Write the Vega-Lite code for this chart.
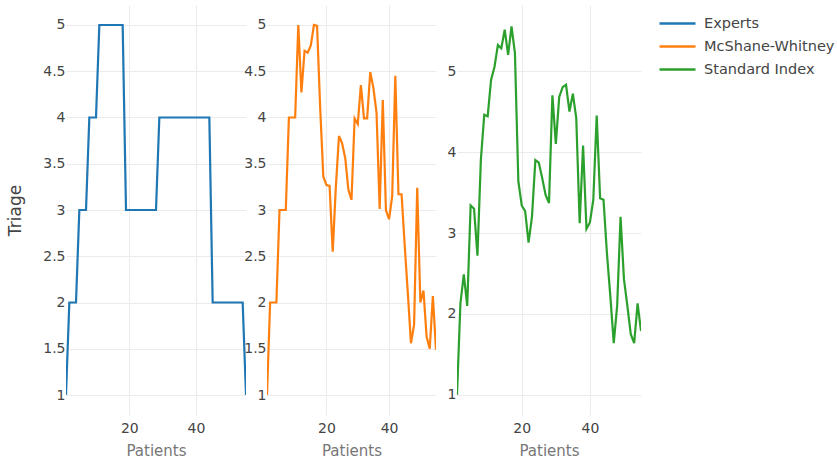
{
  "$schema": "https://vega.github.io/schema/vega-lite/v6.json",
  "padding": {"left": 6, "top": 5, "right": 5, "bottom": 5},
  "background": "white",
  "config": {
    "font": "DejaVu Sans",
    "view": {"stroke": null},
    "axis": {"domain": false, "ticks": false, "gridColor": "#ebebeb", "gridWidth": 1, "labelColor": "#444", "labelFontSize": 14, "titleFontWeight": "normal"},
    "legend": {"labelFontSize": 14.5, "labelColor": "#444"}
  },
  "datasets": {
    "triage": [
      {"series": "Experts", "patient": 1, "triage": 1},
      {"series": "Experts", "patient": 2, "triage": 2},
      {"series": "Experts", "patient": 3, "triage": 2},
      {"series": "Experts", "patient": 4, "triage": 2},
      {"series": "Experts", "patient": 5, "triage": 3},
      {"series": "Experts", "patient": 6, "triage": 3},
      {"series": "Experts", "patient": 7, "triage": 3},
      {"series": "Experts", "patient": 8, "triage": 4},
      {"series": "Experts", "patient": 9, "triage": 4},
      {"series": "Experts", "patient": 10, "triage": 4},
      {"series": "Experts", "patient": 11, "triage": 5},
      {"series": "Experts", "patient": 12, "triage": 5},
      {"series": "Experts", "patient": 13, "triage": 5},
      {"series": "Experts", "patient": 14, "triage": 5},
      {"series": "Experts", "patient": 15, "triage": 5},
      {"series": "Experts", "patient": 16, "triage": 5},
      {"series": "Experts", "patient": 17, "triage": 5},
      {"series": "Experts", "patient": 18, "triage": 5},
      {"series": "Experts", "patient": 19, "triage": 3},
      {"series": "Experts", "patient": 20, "triage": 3},
      {"series": "Experts", "patient": 21, "triage": 3},
      {"series": "Experts", "patient": 22, "triage": 3},
      {"series": "Experts", "patient": 23, "triage": 3},
      {"series": "Experts", "patient": 24, "triage": 3},
      {"series": "Experts", "patient": 25, "triage": 3},
      {"series": "Experts", "patient": 26, "triage": 3},
      {"series": "Experts", "patient": 27, "triage": 3},
      {"series": "Experts", "patient": 28, "triage": 3},
      {"series": "Experts", "patient": 29, "triage": 4},
      {"series": "Experts", "patient": 30, "triage": 4},
      {"series": "Experts", "patient": 31, "triage": 4},
      {"series": "Experts", "patient": 32, "triage": 4},
      {"series": "Experts", "patient": 33, "triage": 4},
      {"series": "Experts", "patient": 34, "triage": 4},
      {"series": "Experts", "patient": 35, "triage": 4},
      {"series": "Experts", "patient": 36, "triage": 4},
      {"series": "Experts", "patient": 37, "triage": 4},
      {"series": "Experts", "patient": 38, "triage": 4},
      {"series": "Experts", "patient": 39, "triage": 4},
      {"series": "Experts", "patient": 40, "triage": 4},
      {"series": "Experts", "patient": 41, "triage": 4},
      {"series": "Experts", "patient": 42, "triage": 4},
      {"series": "Experts", "patient": 43, "triage": 4},
      {"series": "Experts", "patient": 44, "triage": 4},
      {"series": "Experts", "patient": 45, "triage": 2},
      {"series": "Experts", "patient": 46, "triage": 2},
      {"series": "Experts", "patient": 47, "triage": 2},
      {"series": "Experts", "patient": 48, "triage": 2},
      {"series": "Experts", "patient": 49, "triage": 2},
      {"series": "Experts", "patient": 50, "triage": 2},
      {"series": "Experts", "patient": 51, "triage": 2},
      {"series": "Experts", "patient": 52, "triage": 2},
      {"series": "Experts", "patient": 53, "triage": 2},
      {"series": "Experts", "patient": 54, "triage": 2},
      {"series": "Experts", "patient": 55, "triage": 1},
      {"series": "McShane-Whitney", "patient": 1, "triage": 1},
      {"series": "McShane-Whitney", "patient": 2, "triage": 2},
      {"series": "McShane-Whitney", "patient": 3, "triage": 2},
      {"series": "McShane-Whitney", "patient": 4, "triage": 2},
      {"series": "McShane-Whitney", "patient": 5, "triage": 3},
      {"series": "McShane-Whitney", "patient": 6, "triage": 3},
      {"series": "McShane-Whitney", "patient": 7, "triage": 3},
      {"series": "McShane-Whitney", "patient": 8, "triage": 4},
      {"series": "McShane-Whitney", "patient": 9, "triage": 4},
      {"series": "McShane-Whitney", "patient": 10, "triage": 4},
      {"series": "McShane-Whitney", "patient": 11, "triage": 5},
      {"series": "McShane-Whitney", "patient": 12, "triage": 4.27},
      {"series": "McShane-Whitney", "patient": 13, "triage": 4.72},
      {"series": "McShane-Whitney", "patient": 14, "triage": 4.70},
      {"series": "McShane-Whitney", "patient": 15, "triage": 4.78},
      {"series": "McShane-Whitney", "patient": 16, "triage": 5},
      {"series": "McShane-Whitney", "patient": 17, "triage": 4.99},
      {"series": "McShane-Whitney", "patient": 18, "triage": 4.1},
      {"series": "McShane-Whitney", "patient": 19, "triage": 3.36},
      {"series": "McShane-Whitney", "patient": 20, "triage": 3.27},
      {"series": "McShane-Whitney", "patient": 21, "triage": 3.26},
      {"series": "McShane-Whitney", "patient": 22, "triage": 2.55},
      {"series": "McShane-Whitney", "patient": 23, "triage": 3.25},
      {"series": "McShane-Whitney", "patient": 24, "triage": 3.80},
      {"series": "McShane-Whitney", "patient": 25, "triage": 3.72},
      {"series": "McShane-Whitney", "patient": 26, "triage": 3.56},
      {"series": "McShane-Whitney", "patient": 27, "triage": 3.22},
      {"series": "McShane-Whitney", "patient": 28, "triage": 3.11},
      {"series": "McShane-Whitney", "patient": 29, "triage": 3.99},
      {"series": "McShane-Whitney", "patient": 30, "triage": 3.93},
      {"series": "McShane-Whitney", "patient": 31, "triage": 4.35},
      {"series": "McShane-Whitney", "patient": 32, "triage": 3.99},
      {"series": "McShane-Whitney", "patient": 33, "triage": 3.99},
      {"series": "McShane-Whitney", "patient": 34, "triage": 4.49},
      {"series": "McShane-Whitney", "patient": 35, "triage": 4.32},
      {"series": "McShane-Whitney", "patient": 36, "triage": 4.05},
      {"series": "McShane-Whitney", "patient": 37, "triage": 3.01},
      {"series": "McShane-Whitney", "patient": 38, "triage": 4.19},
      {"series": "McShane-Whitney", "patient": 39, "triage": 3.0},
      {"series": "McShane-Whitney", "patient": 40, "triage": 2.90},
      {"series": "McShane-Whitney", "patient": 41, "triage": 3.15},
      {"series": "McShane-Whitney", "patient": 42, "triage": 4.45},
      {"series": "McShane-Whitney", "patient": 43, "triage": 3.17},
      {"series": "McShane-Whitney", "patient": 44, "triage": 3.17},
      {"series": "McShane-Whitney", "patient": 45, "triage": 2.62},
      {"series": "McShane-Whitney", "patient": 46, "triage": 2.1},
      {"series": "McShane-Whitney", "patient": 47, "triage": 1.56},
      {"series": "McShane-Whitney", "patient": 48, "triage": 1.76},
      {"series": "McShane-Whitney", "patient": 49, "triage": 3.24},
      {"series": "McShane-Whitney", "patient": 50, "triage": 2.0},
      {"series": "McShane-Whitney", "patient": 51, "triage": 2.13},
      {"series": "McShane-Whitney", "patient": 52, "triage": 1.63},
      {"series": "McShane-Whitney", "patient": 53, "triage": 1.5},
      {"series": "McShane-Whitney", "patient": 54, "triage": 2.07},
      {"series": "McShane-Whitney", "patient": 55, "triage": 1.49},
      {"series": "Standard Index", "patient": 1, "triage": 1},
      {"series": "Standard Index", "patient": 2, "triage": 2.13},
      {"series": "Standard Index", "patient": 3, "triage": 2.49},
      {"series": "Standard Index", "patient": 4, "triage": 2.10},
      {"series": "Standard Index", "patient": 5, "triage": 3.34},
      {"series": "Standard Index", "patient": 6, "triage": 3.30},
      {"series": "Standard Index", "patient": 7, "triage": 2.72},
      {"series": "Standard Index", "patient": 8, "triage": 3.90},
      {"series": "Standard Index", "patient": 9, "triage": 4.46},
      {"series": "Standard Index", "patient": 10, "triage": 4.44},
      {"series": "Standard Index", "patient": 11, "triage": 4.89},
      {"series": "Standard Index", "patient": 12, "triage": 5.05},
      {"series": "Standard Index", "patient": 13, "triage": 5.32},
      {"series": "Standard Index", "patient": 14, "triage": 5.28},
      {"series": "Standard Index", "patient": 15, "triage": 5.51},
      {"series": "Standard Index", "patient": 16, "triage": 5.20},
      {"series": "Standard Index", "patient": 17, "triage": 5.55},
      {"series": "Standard Index", "patient": 18, "triage": 5.22},
      {"series": "Standard Index", "patient": 19, "triage": 3.64},
      {"series": "Standard Index", "patient": 20, "triage": 3.34},
      {"series": "Standard Index", "patient": 21, "triage": 3.27},
      {"series": "Standard Index", "patient": 22, "triage": 2.88},
      {"series": "Standard Index", "patient": 23, "triage": 3.2},
      {"series": "Standard Index", "patient": 24, "triage": 3.90},
      {"series": "Standard Index", "patient": 25, "triage": 3.87},
      {"series": "Standard Index", "patient": 26, "triage": 3.68},
      {"series": "Standard Index", "patient": 27, "triage": 3.47},
      {"series": "Standard Index", "patient": 28, "triage": 3.37},
      {"series": "Standard Index", "patient": 29, "triage": 4.70},
      {"series": "Standard Index", "patient": 30, "triage": 4.10},
      {"series": "Standard Index", "patient": 31, "triage": 4.68},
      {"series": "Standard Index", "patient": 32, "triage": 4.80},
      {"series": "Standard Index", "patient": 33, "triage": 4.83},
      {"series": "Standard Index", "patient": 34, "triage": 4.50},
      {"series": "Standard Index", "patient": 35, "triage": 4.72},
      {"series": "Standard Index", "patient": 36, "triage": 4.42},
      {"series": "Standard Index", "patient": 37, "triage": 3.12},
      {"series": "Standard Index", "patient": 38, "triage": 4.08},
      {"series": "Standard Index", "patient": 39, "triage": 3.05},
      {"series": "Standard Index", "patient": 40, "triage": 3.13},
      {"series": "Standard Index", "patient": 41, "triage": 3.41},
      {"series": "Standard Index", "patient": 42, "triage": 4.45},
      {"series": "Standard Index", "patient": 43, "triage": 3.43},
      {"series": "Standard Index", "patient": 44, "triage": 3.41},
      {"series": "Standard Index", "patient": 45, "triage": 2.75},
      {"series": "Standard Index", "patient": 46, "triage": 2.22},
      {"series": "Standard Index", "patient": 47, "triage": 1.64},
      {"series": "Standard Index", "patient": 48, "triage": 2.10},
      {"series": "Standard Index", "patient": 49, "triage": 3.20},
      {"series": "Standard Index", "patient": 50, "triage": 2.43},
      {"series": "Standard Index", "patient": 51, "triage": 2.10},
      {"series": "Standard Index", "patient": 52, "triage": 1.75},
      {"series": "Standard Index", "patient": 53, "triage": 1.64},
      {"series": "Standard Index", "patient": 54, "triage": 2.13},
      {"series": "Standard Index", "patient": 55, "triage": 1.79}
    ]
  },
  "data": {"name": "triage"},
  "bounds": "flush",
  "spacing": 21,
  "hconcat": [
    {
      "width": 180,
      "height": 410,
      "transform": [{"filter": "datum.series === 'Experts'"}],
      "mark": {"type": "line", "strokeWidth": 2.2, "clip": true},
      "encoding": {
        "x": {"field": "patient", "type": "quantitative", "scale": {"domain": [1, 55], "nice": false, "zero": false}, "axis": {"values": [20, 40], "title": "Patients", "titleColor": "#777", "titleFontSize": 15, "labelPadding": 6, "titlePadding": 8}},
        "y": {"field": "triage", "type": "quantitative", "scale": {"domain": [0.784, 5.216], "nice": false, "zero": false}, "axis": {"values": [1, 1.5, 2, 2.5, 3, 3.5, 4, 4.5, 5], "format": "~g", "title": "Triage", "titleColor": "#444", "titleFontSize": 17, "labelPadding": 1, "titlePadding": 18}},
        "color": {"field": "series", "type": "nominal", "scale": {"domain": ["Experts", "McShane-Whitney", "Standard Index"], "range": ["#1f77b4", "#ff7f0e", "#2ca02c"]}, "legend": {"title": null, "symbolType": "M-1.8,0H1.8", "symbolStrokeWidth": 2.5, "symbolSize": 400, "rowPadding": 5, "labelOffset": 15, "offset": 18, "padding": 7}}
      }
    },
    {
      "width": 169,
      "height": 410,
      "transform": [{"filter": "datum.series === 'McShane-Whitney'"}],
      "mark": {"type": "line", "strokeWidth": 2.2, "clip": true},
      "encoding": {
        "x": {"field": "patient", "type": "quantitative", "scale": {"domain": [1, 55], "nice": false, "zero": false}, "axis": {"values": [20, 40], "title": "Patients", "titleColor": "#777", "titleFontSize": 15, "labelPadding": 6, "titlePadding": 8}},
        "y": {"field": "triage", "type": "quantitative", "scale": {"domain": [0.784, 5.216], "nice": false, "zero": false}, "axis": {"values": [1, 1.5, 2, 2.5, 3, 3.5, 4, 4.5, 5], "format": "~g", "title": null, "labelPadding": 1}},
        "color": {"field": "series", "type": "nominal"}
      }
    },
    {
      "width": 184,
      "height": 410,
      "transform": [{"filter": "datum.series === 'Standard Index'"}],
      "mark": {"type": "line", "strokeWidth": 2.2, "clip": true},
      "encoding": {
        "x": {"field": "patient", "type": "quantitative", "scale": {"domain": [1, 55], "nice": false, "zero": false}, "axis": {"values": [20, 40], "title": "Patients", "titleColor": "#777", "titleFontSize": 15, "labelPadding": 6, "titlePadding": 8}},
        "y": {"field": "triage", "type": "quantitative", "scale": {"domain": [0.753, 5.815], "nice": false, "zero": false}, "axis": {"values": [1, 2, 3, 4, 5], "format": "~g", "title": null, "labelPadding": 1}},
        "color": {"field": "series", "type": "nominal"}
      }
    }
  ]
}
